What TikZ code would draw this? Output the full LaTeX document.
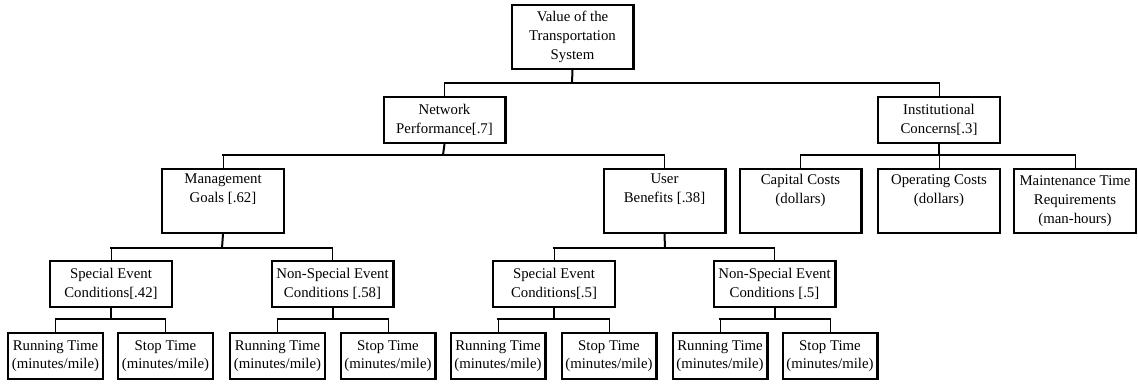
\documentclass[tikz,border=0pt]{standalone}
\usepackage{fontspec}
\setmainfont{Liberation Serif}
\begin{document}
\begin{tikzpicture}[x=1pt,y=-1pt,
  box/.style={draw, line width=2.4pt, inner sep=0pt, align=center,
    font=\fontsize{14.8}{19}\selectfont, minimum width=121.6pt},
  tall/.style={box, minimum height=63.6pt},
  mid/.style={box, minimum height=45.6pt},
  leaf/.style={box, minimum height=45.6pt, minimum width=94.6pt,
    font=\fontsize{14.8}{17.5}\selectfont},
  bus/.style={line width=1.8pt, line cap=rect},
  pstem/.style={line width=2pt},
  cstem/.style={line width=1pt}]
\useasboundingbox (0,0) rectangle (1138,383);
% level 0-2
\node[tall] (root) at (572.5,37) {Value of the\\Transportation\\System};
\node[mid] (np) at (444.5,120) {Network\\Performance[.7]};
\node[mid] (ic) at (939,120) {Institutional\\Concerns[.3]};
\node[tall] (mg) at (223,201) {Management\\Goals [.62]\\\strut};
\node[tall] (ub) at (664.5,201) {User\\Benefits [.38]\\\strut};
\node[tall] (cc) at (800.5,201) {Capital Costs\\(dollars)\\\strut};
\node[tall] (oc) at (939,201) {Operating Costs\\(dollars)\\\strut};
\node[tall] (mt) at (1075,201) {Maintenance Time\\Requirements\\(man-hours)};
% level 3
\node[mid] (se1) at (111,284) {Special Event\\Conditions[.42]};
\node[mid] (ns1) at (332.5,284) {Non-Special Event\\Conditions [.58]};
\node[mid] (se2) at (554,284) {Special Event\\Conditions[.5]};
\node[mid] (ns2) at (774.5,284) {Non-Special Event\\Conditions [.5]};
% level 4
\node[leaf] (r1) at (55.5,356) {Running Time\\(minutes/mile)};
\node[leaf] (s1) at (165.5,356) {Stop Time\\(minutes/mile)};
\node[leaf] (r2) at (277.5,356) {Running Time\\(minutes/mile)};
\node[leaf] (s2) at (388,356) {Stop Time\\(minutes/mile)};
\node[leaf] (r3) at (498,356) {Running Time\\(minutes/mile)};
\node[leaf] (s3) at (609,356) {Stop Time\\(minutes/mile)};
\node[leaf] (r4) at (720,356) {Running Time\\(minutes/mile)};
\node[leaf] (s4) at (830,356) {Stop Time\\(minutes/mile)};
% bus junctions
\coordinate (b0) at (572,83);
\coordinate (b1) at (443,155);
\coordinate (b2) at (939,155);
\coordinate (b3) at (222,248);
\coordinate (b4) at (665,248);
\coordinate (b5) at (111,319);
\coordinate (b6) at (332.5,319);
\coordinate (b7) at (554,319);
\coordinate (b8) at (774.5,319);
% root
\draw[pstem] (root.south) -- (b0);
\draw[bus] (np.north |- b0) -- (ic.north |- b0);
\foreach \c in {np,ic} \draw[cstem] (\c.north) -- (\c.north |- b0);
% network performance
\draw[pstem] (np.south) -- (b1);
\draw[bus] (mg.north |- b1) -- (ub.north |- b1);
\foreach \c in {mg,ub} \draw[cstem] (\c.north) -- (\c.north |- b1);
% institutional concerns
\draw[pstem] (ic.south) -- (b2);
\draw[bus] (cc.north |- b2) -- (mt.north |- b2);
\foreach \c in {cc,oc,mt} \draw[cstem] (\c.north) -- (\c.north |- b2);
% management goals
\draw[pstem] (mg.south) -- (b3);
\draw[bus] (se1.north |- b3) -- (ns1.north |- b3);
\foreach \c in {se1,ns1} \draw[cstem] (\c.north) -- (\c.north |- b3);
% user benefits
\draw[pstem] (ub.south) -- (b4);
\draw[bus] (se2.north |- b4) -- (ns2.north |- b4);
\foreach \c in {se2,ns2} \draw[cstem] (\c.north) -- (\c.north |- b4);
% level 3 to leaves
\draw[pstem] (se1.south) -- (b5);
\draw[bus] (r1.north |- b5) -- (s1.north |- b5);
\foreach \c in {r1,s1} \draw[cstem] (\c.north) -- (\c.north |- b5);
\draw[pstem] (ns1.south) -- (b6);
\draw[bus] (r2.north |- b6) -- (s2.north |- b6);
\foreach \c in {r2,s2} \draw[cstem] (\c.north) -- (\c.north |- b6);
\draw[pstem] (se2.south) -- (b7);
\draw[bus] (r3.north |- b7) -- (s3.north |- b7);
\foreach \c in {r3,s3} \draw[cstem] (\c.north) -- (\c.north |- b7);
\draw[pstem] (ns2.south) -- (b8);
\draw[bus] (r4.north |- b8) -- (s4.north |- b8);
\foreach \c in {r4,s4} \draw[cstem] (\c.north) -- (\c.north |- b8);
\end{tikzpicture}
\end{document}
